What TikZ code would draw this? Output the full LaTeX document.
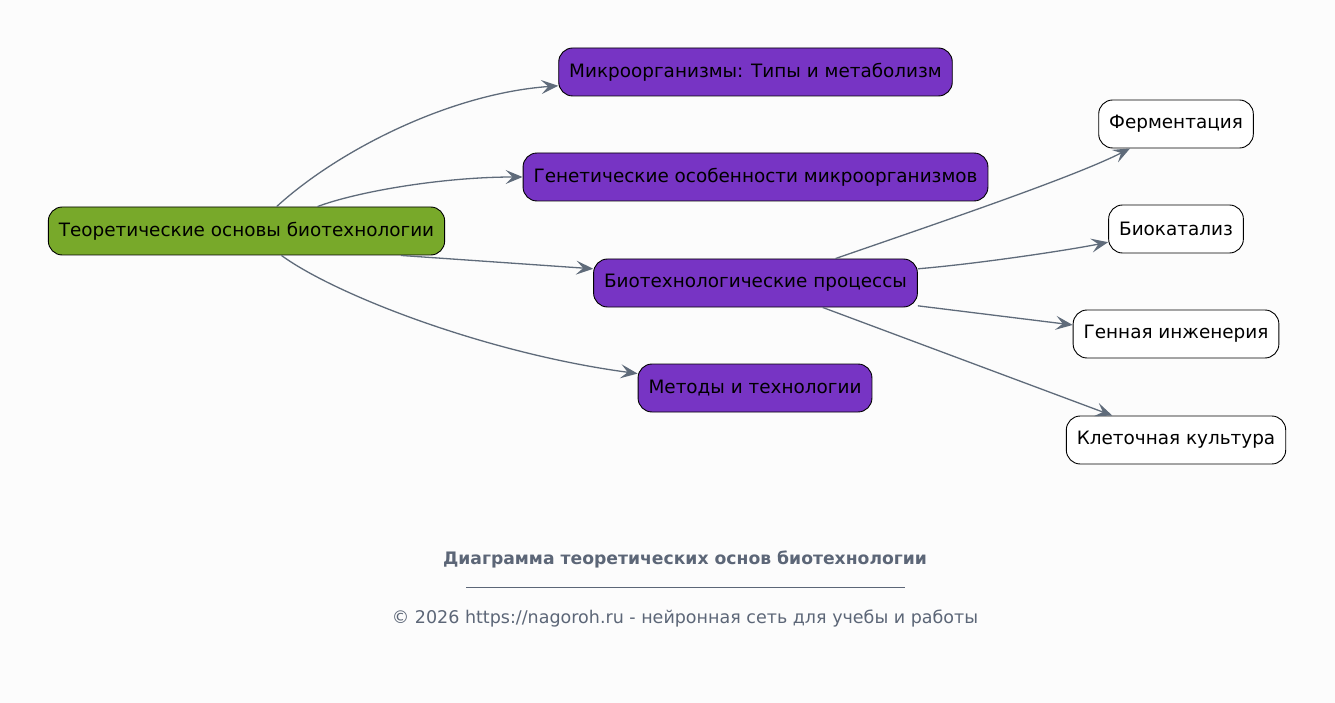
\documentclass[tikz,border=0pt]{standalone}
\usepackage{fontspec}
\setmainfont{DejaVu Sans}
\usetikzlibrary{arrows.meta}
\definecolor{rootgreen}{HTML}{78A92A}
\definecolor{topicpurple}{HTML}{7734C4}
\definecolor{edgegray}{HTML}{5F6B7A}
\definecolor{footgray}{HTML}{5C6677}
\definecolor{paper}{HTML}{FCFCFC}
\begin{document}
\begin{tikzpicture}[x=1pt,y=-1pt,font=\fontsize{18.4}{22}\selectfont, edge/.style={draw=edgegray,line width=1.3pt,-{Stealth[length=17pt,width=14pt,inset=7pt]}}]
      \tikzstyle{base node}=[draw,line width=0.9pt,rounded corners=14pt,minimum height=48pt,inner xsep=10.5pt,text=black]
      \tikzstyle{root node}=[base node,fill=rootgreen]
      \tikzstyle{topic node}=[base node,fill=topicpurple]
      \tikzstyle{leaf node}=[base node,fill=white]

      \fill[paper] (0,0) rectangle (1335,703);
      \useasboundingbox (0,0) rectangle (1335,703);

      \node(root)[root node] at (246.5,231) {Теоретические основы биотехнологии};

      \node(micro)[topic node] at (755.5,72) {Микроорганизмы: Типы и метаболизм};
      \node(genet)[topic node] at (755.5,177) {Генетические особенности микроорганизмов};
      \node(proc)[topic node] at (755.5,283) {Биотехнологические процессы};
      \node(meth)[topic node] at (755,388) {Методы и технологии};

      \node(ferm)[leaf node] at (1176,124) {Ферментация};
      \node(cata)[leaf node] at (1176,229) {Биокатализ};
      \node(gene)[leaf node] at (1176,334) {Генная инженерия};
      \node(cell)[leaf node] at (1176,440) {Клеточная культура};

      \draw[edge] (root.39) .. controls +(60,-55) and +(-110,8) .. (micro.184);
      \draw[edge] (root.19) .. controls +(40,-15) and +(-80,0) .. (genet.west);
      \draw[edge] (root.-9) -- (proc.175);
      \draw[edge] (root.-35) .. controls +(55,40) and +(-150,-20) .. (meth.173);

      \draw[edge] (proc.17) .. controls +(110,-38) and +(-55,28) .. (ferm.208);
      \draw[edge] (proc.5.6) .. controls +(60,-5) and +(-40,8) .. (cata.191);
      \draw[edge] (proc.-8) -- (gene.175);
      \draw[edge] (proc.-20) -- (cell.159);

      \node(title)[text=footgray,font=\fontsize{17.2}{20}\selectfont\bfseries] at (685,559) {Диаграмма теоретических основ биотехнологии};
      \draw[footgray,line width=0.7pt] (466,587) -- (905,587);
      \node(foot)[text=footgray,font=\fontsize{17.5}{21}\selectfont] at (685,619) {© 2026 https://nagoroh.ru - нейронная сеть для учебы и работы};
\end{tikzpicture}
\end{document}
